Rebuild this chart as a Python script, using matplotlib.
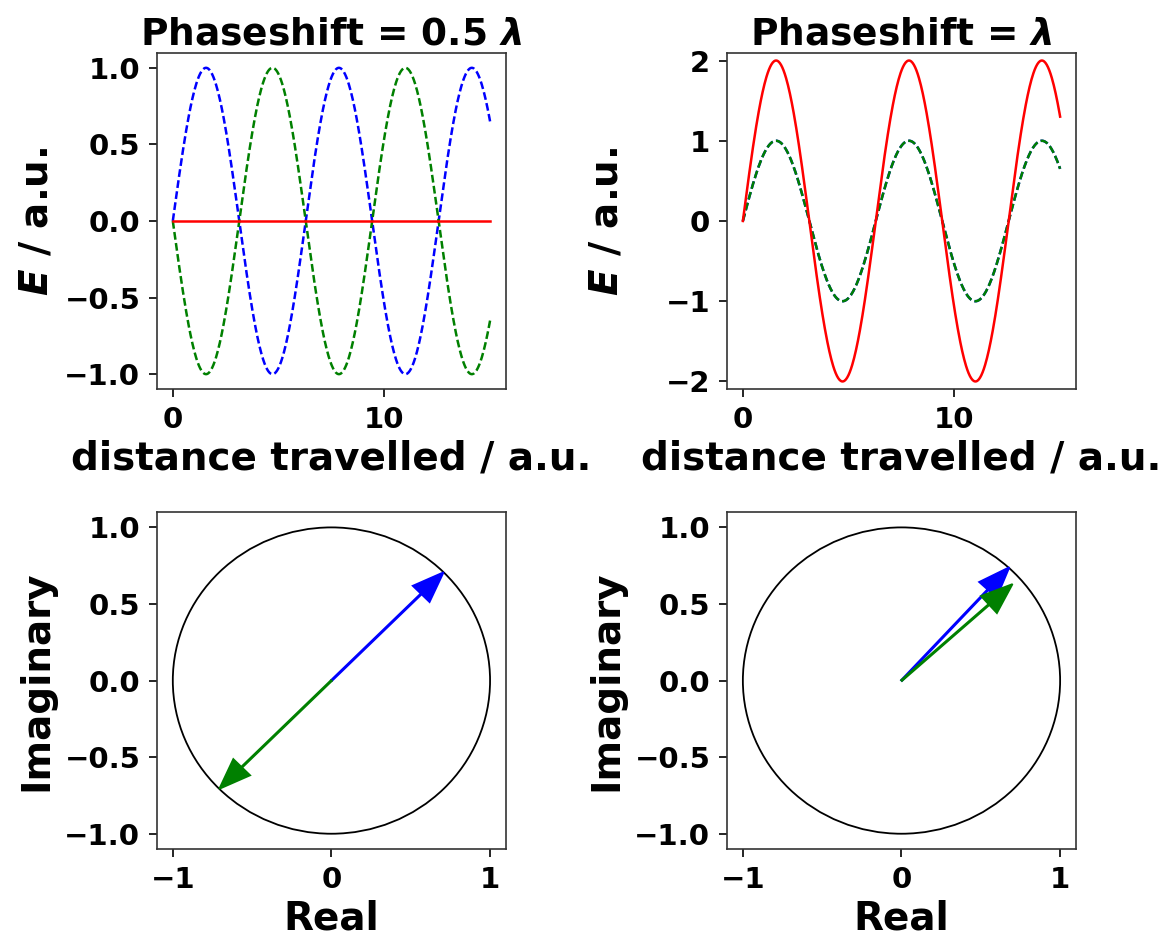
import matplotlib
matplotlib.use("Agg")
import matplotlib.pyplot as plt
import numpy as np

# wave parameters (x range in a.u., phase shifts in wavelengths)
x_range = [0, 15]
n_samples = 500
amplitudes = [1.0, 1.0]
phase_shifts = [0.5, 1.0]          # green wave shift for left / right column
titles = ["Phaseshift = 0.5 $\\lambda$", "Phaseshift = $\\lambda$"]
wave_ylims = [None, (-2.1, 2.1)]
wave_xticks = [0, 10]

# phasor tips (real, imaginary)
blue_tips = [(0.707, 0.707), (0.68, 0.74)]
green_tips = [(-0.707, -0.707), (0.70, 0.63)]

plt.rcParams["font.weight"] = "bold"
plt.rcParams["axes.labelweight"] = "bold"
plt.rcParams["axes.titleweight"] = "bold"
plt.rcParams["mathtext.fontset"] = "custom"
plt.rcParams["mathtext.it"] = "DejaVu Sans:italic:bold"
plt.rcParams["mathtext.rm"] = "DejaVu Sans:bold"
plt.rcParams["mathtext.bf"] = "DejaVu Sans:bold"
plt.rcParams["axes.linewidth"] = 1.2
plt.rcParams["axes.edgecolor"] = "#333333"

label_size = 28
tick_size = 21
lw = 1.8
dash = (3.1, 1.35)

fig = plt.figure(figsize=(11.66, 9.36), dpi=100)
lefts = [0.1346, 0.6235]
bottoms = [0.5839, 0.0929]
w, h = 0.2993, 0.36

x = np.linspace(x_range[0], x_range[1], n_samples)


def style(ax):
    ax.tick_params(labelsize=tick_size, length=5.5, width=1.2, pad=6.5)
    # y labels lined up per column
    ax.yaxis.set_label_coords(-0.29, 0.5)


for col in range(2):
    # top row: the two waves and their sum
    ax = fig.add_axes([lefts[col], bottoms[0], w, h])
    e_blue = amplitudes[0] * np.sin(x)
    e_green = amplitudes[1] * np.sin(x + 2 * np.pi * phase_shifts[col])
    ax.plot(x, e_blue, 'b--', lw=lw, dashes=dash)
    ax.plot(x, e_green, 'g--', lw=lw, dashes=dash)
    ax.plot(x, e_blue + e_green, 'r-', lw=lw)
    if wave_ylims[col] is not None:
        ax.set_ylim(*wave_ylims[col])
    ax.set_xticks(wave_xticks)
    ax.set_title(titles[col], fontsize=27)
    ax.set_xlabel("distance travelled / a.u.", fontsize=label_size)
    ax.set_ylabel("$E$ / a.u.", fontsize=label_size)
    style(ax)

    # bottom row: phasors on the unit circle
    ax2 = fig.add_axes([lefts[col], bottoms[1], w, h])
    ax2.add_patch(plt.Circle((0, 0), 1, fill=False, color='k', lw=1.3))
    bx, by = blue_tips[col]
    gx, gy = green_tips[col]
    ax2.arrow(0, 0, bx, by, width=0.008, head_width=0.15, head_length=0.2,
              length_includes_head=True, color='b', lw=1.3)
    ax2.arrow(0, 0, gx, gy, width=0.008, head_width=0.15, head_length=0.2,
              length_includes_head=True, color='g', lw=1.3)
    ax2.set_xlim(-1.1, 1.1)
    ax2.set_ylim(-1.1, 1.1)
    ax2.set_xlabel("Real", fontsize=label_size)
    ax2.set_ylabel("Imaginary", fontsize=label_size)
    style(ax2)

plt.savefig("out.png", dpi=100)
